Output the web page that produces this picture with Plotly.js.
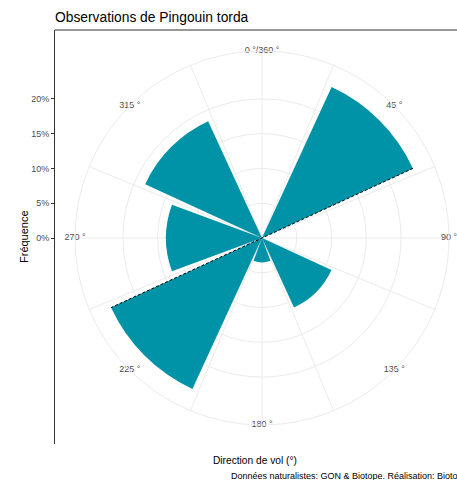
<!DOCTYPE html>
<html>
<head>
<meta charset="utf-8">
<script src="https://cdn.plot.ly/plotly-3.0.1.min.js"></script>
<style>html,body{margin:0;padding:0;background:#fff;}#chart{width:457px;height:480px;}</style>
</head>
<body>
<div id="chart"></div>
<script>
// ---- data ----
const directions = [0, 45, 90, 135, 180, 225, 270, 315];          // bin centres (degrees)
const frequencies = [0, 23.9, 0, 11.0, 3.5, 23.9, 13.8, 18.5];      // percent
const thetaTickVals = [0, 45, 90, 135, 180, 225, 270, 315];
const thetaTickText = ['0 °/360 °', '45 °', '90 °', '135 °', '180 °', '225 °', '270 °', '315 °'];
const spokeAngles = [0, 22.5, 67.5, 90, 112.5, 157.5, 180, 202.5, 247.5, 270, 292.5, 337.5];
const radialTickVals = [0, 5, 10, 15, 20];
const radialTickText = ['0%', '5%', '10%', '15%', '20%'];
const lineBins = [45, 225];   // bins whose edge carries the dashed line

// ---- geometry ----
const W = 457, H = 480;
const cx = 262, cy = 238, R = 187;           // polar centre and outer radius (px)
const barWidth = 45 * 0.9;
const rMax = Math.max(...frequencies);
const rangeMax = rMax * 0.45 / 0.4;
const ppu = R / rangeMax;
const panelTop = 30, panelBottom = 444, panelLeft = 55;

const teal = '#0093A7';
const grid = '#EBEBEB';
const txt = '#4D4D4D';
const font = 'Liberation Sans, Arial, sans-serif';

// dashed line along the trailing edges of the two long bins
const edgeTheta = [], edgeR = [];
lineBins.forEach((b, i) => {
  const idx = directions.indexOf(b);
  edgeTheta.push(b + barWidth / 2);
  edgeR.push(frequencies[idx]);
  if (i === 0) { edgeTheta.push(0); edgeR.push(0); }
});

const data = [
  {type: 'scatter', x: [], y: [], xaxis: 'x', yaxis: 'y', showlegend: false, hoverinfo: 'skip'},
  {
    type: 'barpolar', r: frequencies, theta: directions, width: barWidth,
    marker: {color: teal, line: {width: 0}}, showlegend: false
  },
  {
    type: 'scatterpolar', r: edgeR, theta: edgeTheta, mode: 'lines',
    line: {color: '#000', width: 1, dash: '3px,2px'}, showlegend: false, hoverinfo: 'skip'
  },
  {
    type: 'scatterpolar', mode: 'text', r: thetaTickVals.map(() => rangeMax), theta: thetaTickVals,
    text: thetaTickText, textposition: 'middle center', cliponaxis: false,
    textfont: {family: font, size: 9, color: txt}, showlegend: false, hoverinfo: 'skip'
  }
];

const layout = {
  width: W, height: H,
  margin: {l: 0, r: 0, t: 0, b: 0},
  paper_bgcolor: '#fff', plot_bgcolor: 'rgba(0,0,0,0)',
  showlegend: false,
  title: {
    text: 'Observations de Pingouin torda',
    x: panelLeft / W, xanchor: 'left', y: 1 - 17 / H, yanchor: 'middle',
    font: {family: font, size: 13.8, color: '#000'}
  },
  xaxis: {
    domain: [panelLeft / W, 1], range: [0, 1], fixedrange: true,
    showgrid: false, zeroline: false, showline: false, showticklabels: false, ticks: ''
  },
  yaxis: {
    domain: [1 - panelBottom / H, 1 - panelTop / H],
    range: [-(panelBottom - cy) / ppu, (cy - panelTop) / ppu], fixedrange: true,
    showgrid: false, zeroline: false, showline: true, linecolor: '#333', linewidth: 1,
    ticks: 'outside', ticklen: 3, tickcolor: '#333', tickwidth: 1,
    tickvals: radialTickVals, ticktext: radialTickText,
    tickfont: {family: font, size: 9, color: txt}
  },
  polar: {
    domain: {x: [(cx - R) / W, (cx + R) / W], y: [1 - (cy + R) / H, 1 - (cy - R) / H]},
    bgcolor: 'rgba(0,0,0,0)',
    angularaxis: {
      rotation: 90, direction: 'clockwise', tickmode: 'array', tickvals: spokeAngles,
      showticklabels: false, ticks: '', showgrid: true, gridcolor: grid, gridwidth: 1,
      showline: true, linecolor: grid, linewidth: 1
    },
    radialaxis: {
      range: [0, rangeMax], tickvals: radialTickVals.slice(1), showticklabels: false, ticks: '',
      showgrid: true, gridcolor: grid, gridwidth: 1, showline: false
    }
  },
  shapes: [
    {type: 'line', xref: 'paper', yref: 'paper', x0: panelLeft / W, x1: 1,
     y0: 1 - panelTop / H, y1: 1 - panelTop / H, line: {color: '#333', width: 1}}
  ],
  annotations: [
    {text: 'Fréquence', xref: 'paper', yref: 'paper', x: 24 / W, y: 1 - 237 / H,
     xanchor: 'center', yanchor: 'middle', textangle: -90, showarrow: false,
     font: {family: font, size: 11, color: '#000'}},
    {text: 'Direction de vol (°)', xref: 'paper', yref: 'paper', x: 255 / W, y: 1 - 460 / H,
     xanchor: 'center', yanchor: 'middle', showarrow: false,
     font: {family: font, size: 10.2, color: '#000'}},
    {text: 'Données naturalistes: GON & Biotope. Réalisation: Biotope', xref: 'paper', yref: 'paper',
     x: 229 / W, y: 1 - 476 / H, xanchor: 'left', yanchor: 'middle', showarrow: false,
     font: {family: font, size: 9.0, color: '#000'}}
  ]
};

Plotly.newPlot('chart', data, layout, {displayModeBar: false, staticPlot: true});
</script>
</body>
</html>
